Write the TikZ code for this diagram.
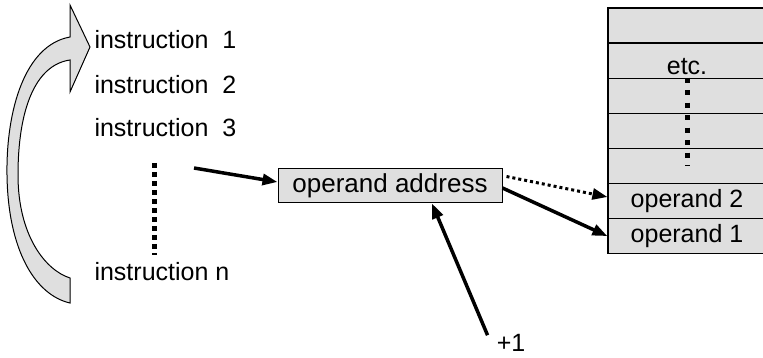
\documentclass[tikz,border=0pt]{standalone}
\usepackage{fontspec}
\setmainfont{Liberation Sans}
\usetikzlibrary{arrows.meta}
\tikzset{
  cell/.style={draw, line width=1.2pt, fill=gray!25, minimum width=158pt, minimum height=35.1pt, inner sep=0pt},
  ptr/.style={-{Triangle[length=15pt,width=11pt]}, line width=3.5pt},
  dots/.style={line width=5pt, dash pattern=on 5pt off 4pt}
}
\begin{document}
\begin{tikzpicture}[x=1pt, y=-1pt, font=\fontsize{25}{30}\selectfont]
\useasboundingbox (0,0) rectangle (763,358);
% loop arrow
\draw[fill=gray!25, line width=1pt] (90,47) -- (70,5) -- (70,37)
  .. controls (25,45) and (6,110) .. (7,175)
  .. controls (8,250) and (35,295) .. (70,303) -- (70,278)
  .. controls (45,270) and (18,235) .. (18,175)
  .. controls (18,110) and (35,65) .. (70,60) -- (70,92) -- cycle;
% program
\node[anchor=west] (ins1) at (91,40) {instruction~~1};
\node[anchor=west] (ins2) at (91,85) {instruction~~2};
\node[anchor=west] (ins3) at (91,128) {instruction~~3};
\node[anchor=west] (insn) at (91,272) {instruction~n};
\draw[dots] (154,163) -- (154,255);
% pointer
\node[draw, fill=gray!25, line width=1pt, minimum width=224pt, minimum height=34pt, inner sep=0pt,
  font=\fontsize{26}{30}\selectfont] (opaddr) at (390,186) {operand address};
\node[inner sep=1pt] (plusone) at (511,343) {+1};
% memory
\foreach \i/\txt in {0/,1/,2/,3/,4/,5/operand 2,6/operand 1}
  \node[cell] (cell\i) at (687,{25.5+35.1*\i}) {\txt};
\node[yshift=-6pt] (etc) at (cell1) {etc.};
\draw[dots, dash pattern=on 5pt off 7.5pt] (cell2.north) -- (cell4.center);
% arrows
\coordinate (from3) at (194,168);
\draw[ptr] (from3) -- ([yshift=4pt]opaddr.west);
\draw[ptr, line width=3pt, dash pattern=on 3pt off 3pt] ([xshift=4pt,yshift=-8pt]opaddr.north east) -- ([yshift=4pt]cell5.west);
\draw[ptr] ([yshift=-2pt]opaddr.east) -- (cell6.west);
\draw[ptr] ([xshift=-8pt,yshift=-2pt]plusone.north west) -- ([xshift=42pt]opaddr.south);
\end{tikzpicture}
\end{document}
